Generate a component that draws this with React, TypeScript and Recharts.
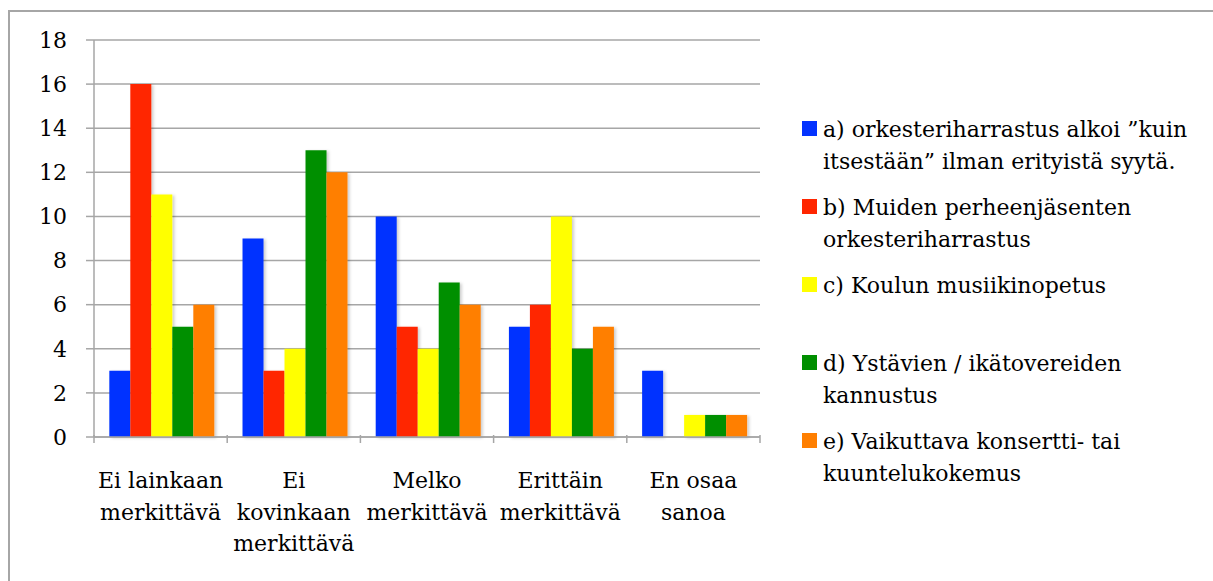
import { BarChart, Bar, XAxis, YAxis, CartesianGrid } from 'recharts';

const categories = [
  'Ei lainkaan\nmerkittävä',
  'Ei\nkovinkaan\nmerkittävä',
  'Melko\nmerkittävä',
  'Erittäin\nmerkittävä',
  'En osaa\nsanoa',
];

const seriesA = [3, 9, 10, 5, 3];
const seriesB = [16, 3, 5, 6, 0];
const seriesC = [11, 4, 4, 10, 1];
const seriesD = [5, 13, 7, 4, 1];
const seriesE = [6, 12, 6, 5, 1];

const seriesNames = [
  'a) orkesteriharrastus alkoi ”kuin\nitsestään” ilman erityistä syytä.',
  'b) Muiden perheenjäsenten\norkesteriharrastus',
  'c) Koulun musiikinopetus',
  'd) Ystävien / ikätovereiden\nkannustus',
  'e) Vaikuttava konsertti- tai\nkuuntelukokemus',
];
const seriesKeys = ['a', 'b', 'c', 'd', 'e'];
const seriesColors = ['#0433FF', '#FF2600', '#FFFF00', '#008F00', '#FF7F00'];

const yTicks = [0, 2, 4, 6, 8, 10, 12, 14, 16, 18];

const data = categories.map((name, i) => ({
  name,
  a: seriesA[i],
  b: seriesB[i],
  c: seriesC[i],
  d: seriesD[i],
  e: seriesE[i],
}));

const FONT = '"DejaVu Serif", serif';
const FS = 22;
const GRID = '#a6a6a6';

function CategoryTick(props: any) {
  const { x, y, payload, index, width, visibleTicksCount } = props;
  const band = (width || 666) / (visibleTicksCount || categories.length);
  const lines = String(payload.value).split('\n');
  const axisY = y - 10;
  return (
    <g>
      <line x1={x - band / 2} x2={x - band / 2} y1={axisY} y2={axisY + 8} stroke={GRID} strokeWidth={1.5} />
      {index === categories.length - 1 && (
        <line x1={x + band / 2} x2={x + band / 2} y1={axisY} y2={axisY + 8} stroke={GRID} strokeWidth={1.5} />
      )}
      <text x={x} y={axisY + 53} textAnchor="middle" fontFamily={FONT} fontSize={FS} fill="#000">
        {lines.map((l, k) => (
          <tspan key={k} x={x} dy={k === 0 ? 0 : 31.5}>{l}</tspan>
        ))}
      </text>
    </g>
  );
}

function LegendBox() {
  return (
    <div style={{ position: 'absolute', left: 802, top: 114, fontFamily: FONT, fontSize: FS, lineHeight: '32px', color: '#000' }}>
      {seriesNames.map((n, i) => (
        <div key={seriesKeys[i]} style={{ height: 78, position: 'relative', paddingLeft: 21, whiteSpace: 'pre' }}>
          <span style={{ position: 'absolute', left: 0, top: 7, width: 15, height: 15, background: seriesColors[i] }} />
          {n}
        </div>
      ))}
    </div>
  );
}

export default function App() {
  return (
    <div style={{ position: 'absolute', left: 0, top: 0, width: 1213, height: 581, overflow: 'hidden', background: '#fff' }}>
      <div style={{ position: 'absolute', left: 8, top: 10, width: 1400, height: 800, border: '2px solid #a6a6a6' }} />
      <div style={{ position: 'absolute', left: 0, top: 0 }}>
        <BarChart
          width={1213}
          height={581}
          data={data}
          margin={{ top: 40, right: 453, left: 34, bottom: 24 }}
          barCategoryGap="11.5%"
          barGap={0}
        >
          <defs>
            <filter id="barShadow" x="-20%" y="-5%" width="150%" height="115%">
              <feDropShadow dx="2" dy="1" stdDeviation="1.5" floodColor="#000" floodOpacity="0.2" />
            </filter>
          </defs>
          <CartesianGrid horizontal vertical={false} stroke={GRID} strokeWidth={1.5} />
          <XAxis
            dataKey="name"
            height={120}
            axisLine={{ stroke: GRID, strokeWidth: 1.5 }}
            tickLine={false}
            interval={0}
            tick={<CategoryTick />}
          />
          <YAxis
            width={60}
            domain={[0, 18]}
            ticks={yTicks}
            interval={0}
            axisLine={{ stroke: GRID, strokeWidth: 1.5 }}
            tickLine={{ stroke: GRID, strokeWidth: 1.5 }}
            tickSize={8}
            tickMargin={19}
            tick={{ fontFamily: FONT, fontSize: FS, fill: '#000' }}
          />
          {seriesKeys.map((k, i) => (
            <Bar key={k} dataKey={k} fill={seriesColors[i]} filter="url(#barShadow)" isAnimationActive={false} />
          ))}
        </BarChart>
      </div>
      <LegendBox />
    </div>
  );
}
